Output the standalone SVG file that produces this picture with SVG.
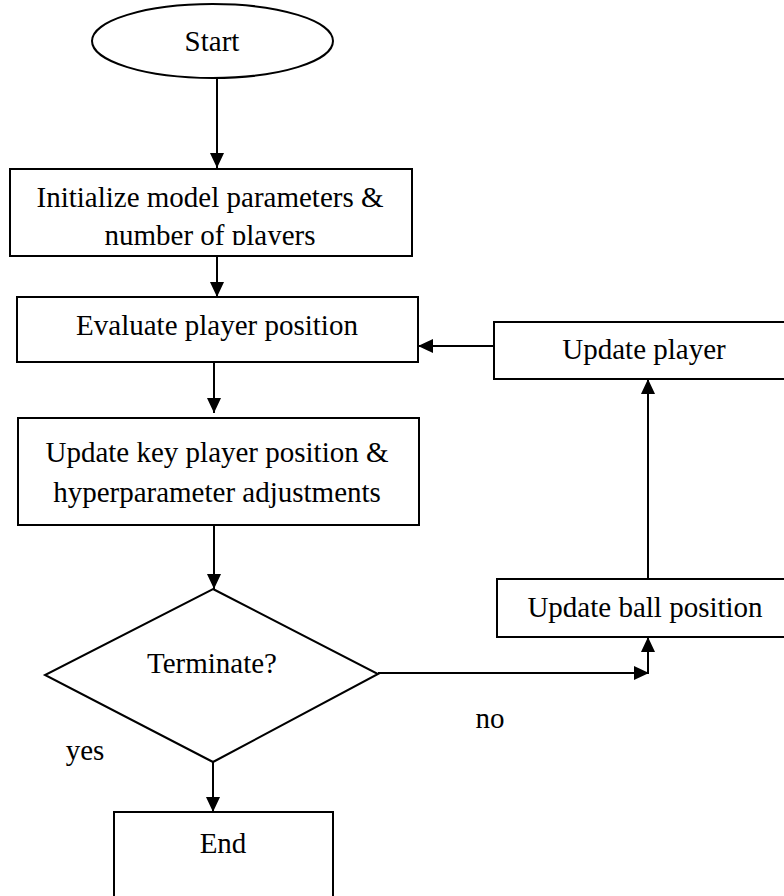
<svg xmlns="http://www.w3.org/2000/svg" width="784" height="896" viewBox="0 0 784 896">
<style>
.s{fill:#fff;stroke:#000;stroke-width:2}
.t{font-family:"Liberation Serif","Times New Roman",serif;font-size:29px;fill:#000;text-anchor:middle}
.c{fill:none;stroke:#000;stroke-width:2}
</style>
<defs>
<marker id="ah" markerUnits="userSpaceOnUse" markerWidth="16" markerHeight="14" refX="15" refY="7" orient="auto">
<path d="M0,0 L15,7 L0,14 Z" fill="#000"/>
</marker>
<clipPath id="clip1"><rect x="10" y="169" width="402" height="76"/></clipPath>
</defs>
<rect width="784" height="896" fill="#fff"/>
<g id="connectors">
<line class="c" x1="217" y1="78" x2="217" y2="168" marker-end="url(#ah)"/>
<line class="c" x1="217" y1="256" x2="217" y2="297" marker-end="url(#ah)"/>
<line class="c" x1="214" y1="358" x2="214" y2="413" marker-end="url(#ah)"/>
<line class="c" x1="214" y1="525" x2="214" y2="589" marker-end="url(#ah)"/>
<line class="c" x1="213" y1="762" x2="213" y2="812" marker-end="url(#ah)"/>
<line class="c" x1="378" y1="673" x2="649" y2="673" marker-end="url(#ah)"/>
<line class="c" x1="648" y1="673" x2="648" y2="637" marker-end="url(#ah)"/>
<line class="c" x1="648" y1="579" x2="648" y2="379" marker-end="url(#ah)"/>
<line class="c" x1="494" y1="346" x2="418" y2="346" marker-end="url(#ah)"/>
</g>
<g id="start">
<ellipse class="s" cx="212.5" cy="41" rx="120.5" ry="37"/>
<text class="t" x="212" y="51">Start</text>
</g>
<g id="init">
<rect class="s" x="10" y="169" width="402" height="87"/>
<g clip-path="url(#clip1)">
<text class="t" x="210" y="207">Initialize model parameters &amp;</text>
<text class="t" x="210" y="245">number of players</text>
</g>
</g>
<g id="evaluate">
<rect class="s" x="17" y="297" width="401" height="65"/>
<text class="t" x="217" y="335">Evaluate player position</text>
</g>
<g id="updatekey">
<rect class="s" x="18" y="418" width="401" height="107"/>
<text class="t" x="217" y="462">Update key player position &amp;</text>
<text class="t" x="217" y="502">hyperparameter adjustments</text>
</g>
<g id="terminate">
<polygon class="s" points="213,589 378,674 213,762 45,675"/>
<text class="t" x="212" y="673">Terminate?</text>
</g>
<g id="end">
<rect class="s" x="114" y="812" width="219" height="100"/>
<text class="t" x="223" y="853">End</text>
</g>
<g id="updateplayer">
<rect class="s" x="494" y="322" width="300" height="57"/>
<text class="t" x="644" y="359">Update player</text>
</g>
<g id="updateball">
<rect class="s" x="497" y="579" width="297" height="58"/>
<text class="t" x="645" y="617">Update ball position</text>
</g>
<g id="labels">
<text class="t" x="85" y="760">yes</text>
<text class="t" x="490" y="728">no</text>
</g>
</svg>
